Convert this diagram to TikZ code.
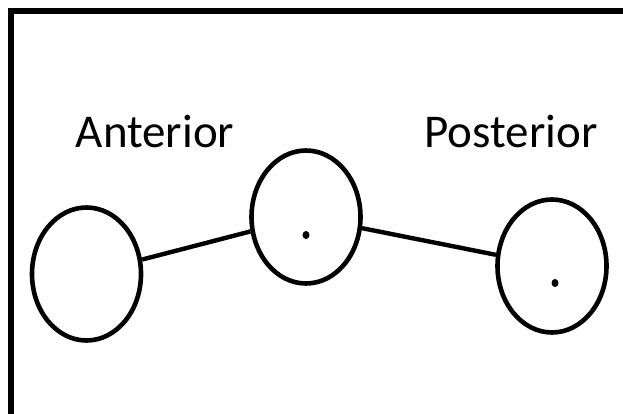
\documentclass[tikz,border=0pt]{standalone}
\usepackage{fontspec}
\setmainfont{Carlito}
\usetikzlibrary{calc,shapes.geometric}

\begin{document}
\begin{tikzpicture}[x=1pt,y=-1pt,
  joint/.style={draw,ellipse,line width=4.6pt,inner sep=0pt,minimum width=109pt,minimum height=133pt},
  link/.style={line width=4.4pt},
  tag/.style={font=\fontsize{47}{56}\selectfont}]
\useasboundingbox (0,0) rectangle (623,414);

% the frame, cut off at the right and at the bottom
\coordinate (corner) at (11,11);
\draw[line width=6.5pt] (11,420) -- (corner) -- (630,11);

% joints
\coordinate (o) at (306,217);
\node[joint] (mid) at (o) {};
\node[joint] (ant) at ($ (o) + (-219.5,57) $) {};
\node[joint] (post) at ($ (o) + (246,49) $) {}; % coordinates are relative to (o)

% centre marks
\fill ($ (o) + (0,18) $) ellipse (3.5pt and 4pt);
\fill ($ (post) + (3,17) $) ellipse (3.5pt and 4pt);

\draw[link] (ant) -- (mid);
\draw[link] (mid) -- (post);

% labels
\node[tag] (anttag) at (155,132) {Anterior};
\node[tag] (posttag) at (511,132) {Posterior};
\end{tikzpicture}
\end{document}
